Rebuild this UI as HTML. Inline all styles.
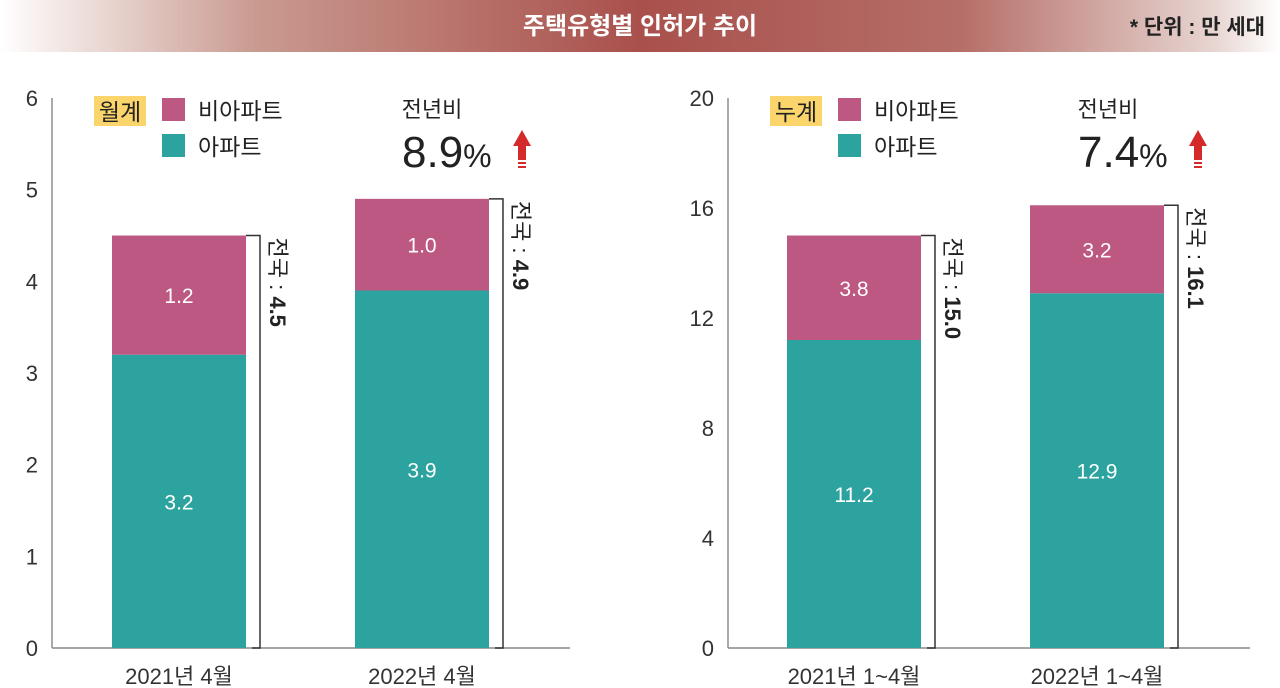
<!DOCTYPE html>
<html><head><meta charset="utf-8"><style>
body{margin:0;width:1280px;height:688px;background:#fff;overflow:hidden;font-family:"Liberation Sans","Noto Sans CJK KR",sans-serif}
#title{position:absolute;left:0;top:0;width:1280px;height:52px;background:linear-gradient(90deg,#fff 0%,#c99a90 20%,#a9504c 50%,#b66e68 75%,#e8d6d2 95%,#fff 100%)}
</style></head><body>
<div id="title"></div>
<svg width="1280" height="688" style="position:absolute;left:0;top:0" font-family="Liberation Sans, Noto Sans CJK KR, sans-serif">
<text x="640" y="34" text-anchor="middle" font-size="24" font-weight="bold" fill="#fff">주택유형별 인허가 추이</text>
<text x="1265" y="34" text-anchor="end" font-size="21" font-weight="bold" fill="#222">* 단위 : 만 세대</text>
<g id="g"></g>
</svg>
<script>
const panels=["월계","누계"];
const categoriesL=["2021년 4월","2022년 4월"];
const categoriesR=["2021년 1~4월","2022년 1~4월"];
const aptL=[3.2,3.9], nonAptL=[1.2,1.0], totalL=[4.5,4.9];
const aptR=[11.2,12.9], nonAptR=[3.8,3.2], totalR=[15.0,16.1];
const ticksL=[0,1,2,3,4,5,6], ticksR=[0,4,8,12,16,20];
const changeL="8.9", changeR="7.4";
const NS="http://www.w3.org/2000/svg";
const g=document.getElementById('g');
function el(t,a,txt){const e=document.createElementNS(NS,t);for(const k in a)e.setAttribute(k,a[k]);if(txt!=null)e.textContent=txt;g.appendChild(e);return e;}
function panel(x0,x1,max,ticks,cats,apt,non,tot,label,chg,barX){
  const y=v=>648-v/max*550;
  let e=el('line',{x1:x0,y1:98,x2:x0,y2:648,stroke:'#555','stroke-width':1});
  
  e=el('line',{x1:x0,y1:648,x2:x1,y2:648,stroke:'#888','stroke-width':1.5});
  
  ticks.forEach(t=>{e=el('text',{x:x0-14,y:y(t)+8,'text-anchor':'end','font-size':22,fill:'#333'},t);
    });
  cats.forEach((c,i)=>{const bx=barX[i],w=134;
    e=el('rect',{x:bx,y:y(apt[i]),width:w,height:y(0)-y(apt[i]),fill:'#2ca39f'});
    
    e=el('rect',{x:bx,y:y(tot[i]),width:w,height:y(apt[i])-y(tot[i]),fill:'#bd5882'});
    
    e=el('text',{x:bx+w/2,y:(y(0)+y(apt[i]))/2+8,'text-anchor':'middle','font-size':21,fill:'#fff'},apt[i].toFixed(1));
    
    e=el('text',{x:bx+w/2,y:(y(apt[i])+y(tot[i]))/2+8,'text-anchor':'middle','font-size':21,fill:'#fff'},non[i].toFixed(1));
    
    e=el('polyline',{points:`${bx+w},${y(tot[i])} ${bx+w+14},${y(tot[i])} ${bx+w+14},648 ${bx+w+6},648`,fill:'none',stroke:'#333','stroke-width':1.5});
    
    e=el('text',{x:0,y:0,'font-size':22,fill:'#222',transform:`translate(${bx+w+24},${y(tot[i])+2}) rotate(90)`});
    
    const s1=document.createElementNS(NS,'tspan');s1.textContent='전국 : ';e.appendChild(s1);
    const s2=document.createElementNS(NS,'tspan');s2.setAttribute('font-weight','bold');s2.textContent=tot[i].toFixed(1);e.appendChild(s2);
    e=el('text',{x:bx+w/2,y:684,'text-anchor':'middle','font-size':22,fill:'#333'},c);
    
  });
  e=el('rect',{x:x0+42,y:96,width:52,height:30,fill:'#fbd46b'});
  
  e=el('text',{x:x0+68,y:120,'text-anchor':'middle','font-size':23,fill:'#222'},label);
  
  e=el('rect',{x:x0+110,y:98,width:23,height:23,fill:'#bd5882'});
  
  e=el('text',{x:x0+146,y:119,'font-size':23,fill:'#222'},'비아파트');
  
  e=el('rect',{x:x0+110,y:134,width:23,height:23,fill:'#2ca39f'});
  
  e=el('text',{x:x0+146,y:155,'font-size':23,fill:'#222'},'아파트');
  
  e=el('text',{x:x0+380,y:117,'text-anchor':'middle','font-size':22,fill:'#222'},'전년비');
  
  e=el('text',{x:x0+350,y:167,'font-size':44,fill:'#222'});
  
  const t1=document.createElementNS(NS,'tspan');t1.textContent=chg;e.appendChild(t1);
  const t2=document.createElementNS(NS,'tspan');t2.setAttribute('font-size','32');t2.textContent='%';e.appendChild(t2);
  const ax=x0+470;
  e=el('path',{d:`M${ax-9},146 L${ax},130 L${ax+9},146 L${ax+4},146 L${ax+4},160 L${ax-4},160 L${ax-4},146 Z M${ax-4},162 h8 v2 h-8 Z M${ax-4},166 h8 v2 h-8 Z`,fill:'#d42a2a'});
  
}
panel(52,570,6,ticksL,categoriesL,aptL,nonAptL,totalL,panels[0],changeL,[112,355]);
panel(728,1250,20,ticksR,categoriesR,aptR,nonAptR,totalR,panels[1],changeR,[787,1030]);
</script>
</body></html>
